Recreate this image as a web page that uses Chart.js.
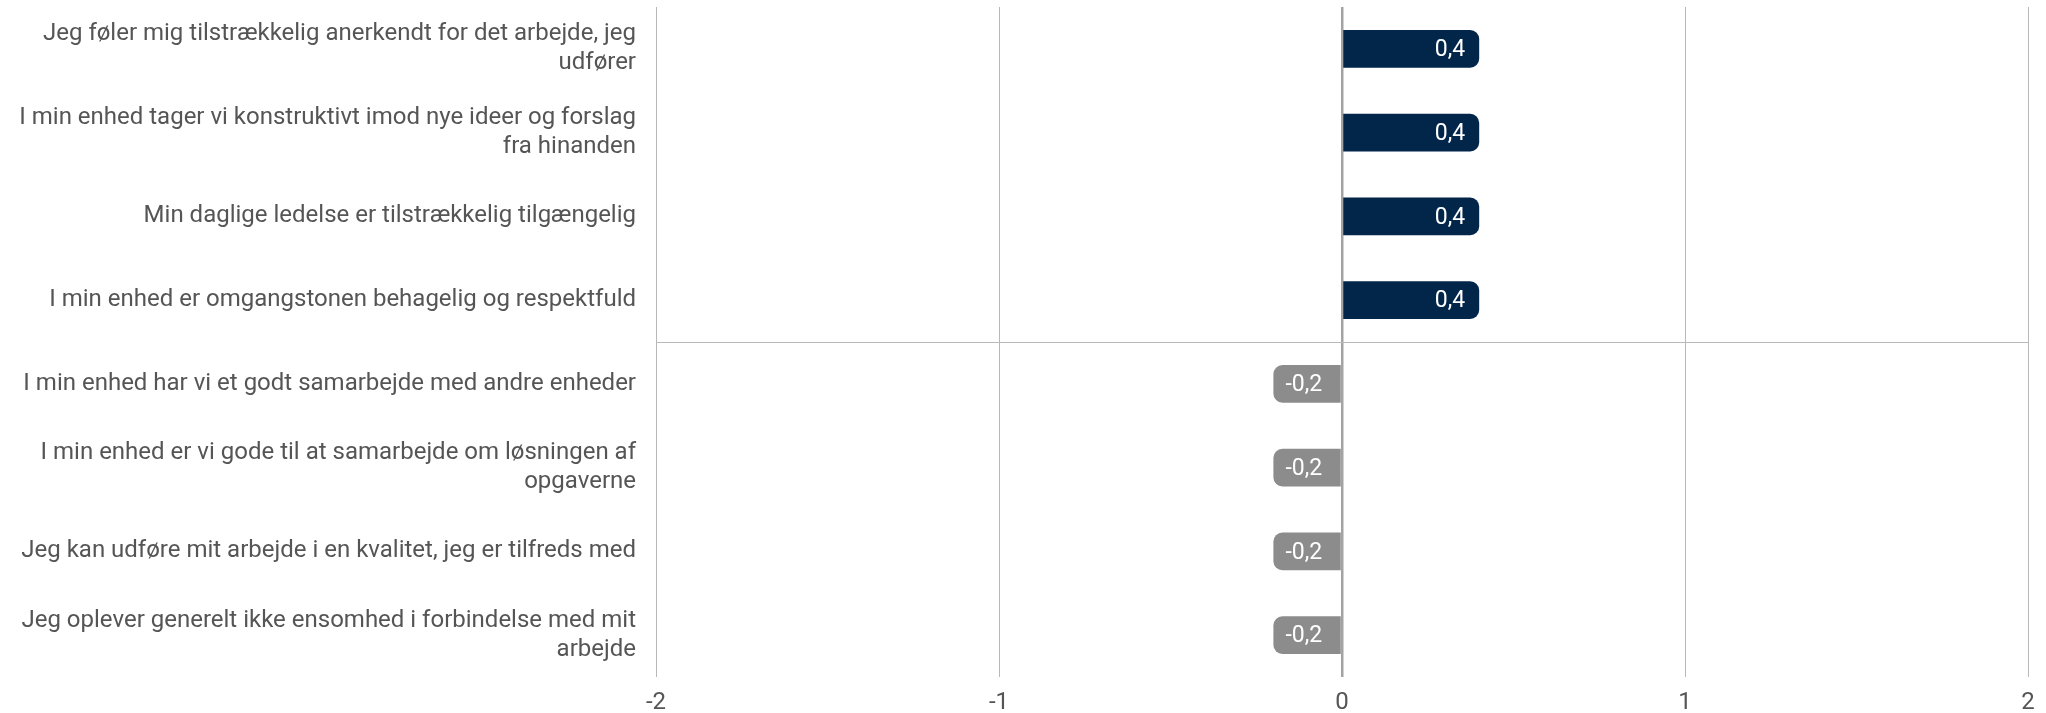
<!DOCTYPE html>
<html>
<head>
<meta charset="utf-8">
<script src="https://cdn.jsdelivr.net/npm/chart.js@4"></script>
<style>
  html, body { margin: 0; padding: 0; background: #fff; }
  #wrap { width: 2046px; height: 713px; position: relative; }
</style>
</head>
<body>
<div id="wrap"><canvas id="c"></canvas></div>
<script>
const categories = [
  ["Jeg føler mig tilstrækkelig anerkendt for det arbejde, jeg", "udfører"],
  ["I min enhed tager vi konstruktivt imod nye ideer og forslag", "fra hinanden"],
  "Min daglige ledelse er tilstrækkelig tilgængelig",
  "I min enhed er omgangstonen behagelig og respektfuld",
  "I min enhed har vi et godt samarbejde med andre enheder",
  ["I min enhed er vi gode til at samarbejde om løsningen af", "opgaverne"],
  "Jeg kan udføre mit arbejde i en kvalitet, jeg er tilfreds med",
  ["Jeg oplever generelt ikke ensomhed i forbindelse med mit", "arbejde"]
];
const values = [0.4, 0.4, 0.4, 0.4, -0.2, -0.2, -0.2, -0.2];
const xTicks = [-2, -1, 0, 1, 2];

const posColor = '#02254a';
const negColor = '#8c8c8c';

const valueLabels = {
  id: 'valueLabels',
  afterDatasetsDraw(chart) {
    const ctx = chart.ctx;
    const meta = chart.getDatasetMeta(0);
    ctx.save();
    ctx.font = '23px Roboto';
    ctx.fillStyle = '#ffffff';
    ctx.textBaseline = 'middle';
    meta.data.forEach((bar, i) => {
      const v = values[i];
      const txt = v.toFixed(1).replace('.', ',');
      if (v >= 0) {
        ctx.textAlign = 'right';
        ctx.fillText(txt, bar.x - 14, bar.y + 1.5);
      } else {
        ctx.textAlign = 'left';
        ctx.fillText(txt, bar.x + 12, bar.y + 1.5);
      }
    });
    ctx.restore();
  }
};

new Chart(document.getElementById('c'), {
  type: 'bar',
  data: {
    labels: categories,
    datasets: [{
      data: values,
      backgroundColor: values.map(v => v >= 0 ? posColor : negColor),
      borderRadius: 9,
      borderSkipped: 'start',
      barPercentage: 0.45,
      categoryPercentage: 1.0
    }]
  },
  options: {
    indexAxis: 'y',
    responsive: true,
    maintainAspectRatio: false,
    animation: false,
    devicePixelRatio: 1,
    layout: { padding: { top: 7, right: 18, bottom: 0, left: 0 } },
    plugins: { legend: { display: false }, tooltip: { enabled: false } },
    scales: {
      x: {
        min: -2, max: 2,
        afterBuildTicks(scale) { scale.ticks = xTicks.map(v => ({ value: v })); },
        afterFit(scale) { scale.height = 36; scale.paddingLeft = 0; scale.paddingRight = 0; },
        ticks: {
          font: { family: 'Roboto', size: 24 },
          color: '#555555',
          padding: 12,
          callback: v => String(v)
        },
        grid: {
          drawTicks: false,
          color: ctx => ctx.tick && ctx.tick.value === 0 ? '#a3a3a3' : '#b8b8b8',
          lineWidth: ctx => ctx.tick && ctx.tick.value === 0 ? 2.5 : 1
        },
        border: { display: false }
      },
      y: {
        afterFit(scale) { scale.width = 656; scale.paddingTop = 0; scale.paddingBottom = 0; },
        ticks: {
          font: { family: 'Roboto', size: 24, lineHeight: 1.2 },
          color: '#555555',
          padding: 20
        },
        grid: {
          drawTicks: false,
          offset: true,
          color: ctx => ctx.index === 4 ? '#b8b8b8' : 'rgba(0,0,0,0)',
          lineWidth: 1
        },
        border: { display: false }
      }
    }
  },
  plugins: [valueLabels]
});
</script>
</body>
</html>
